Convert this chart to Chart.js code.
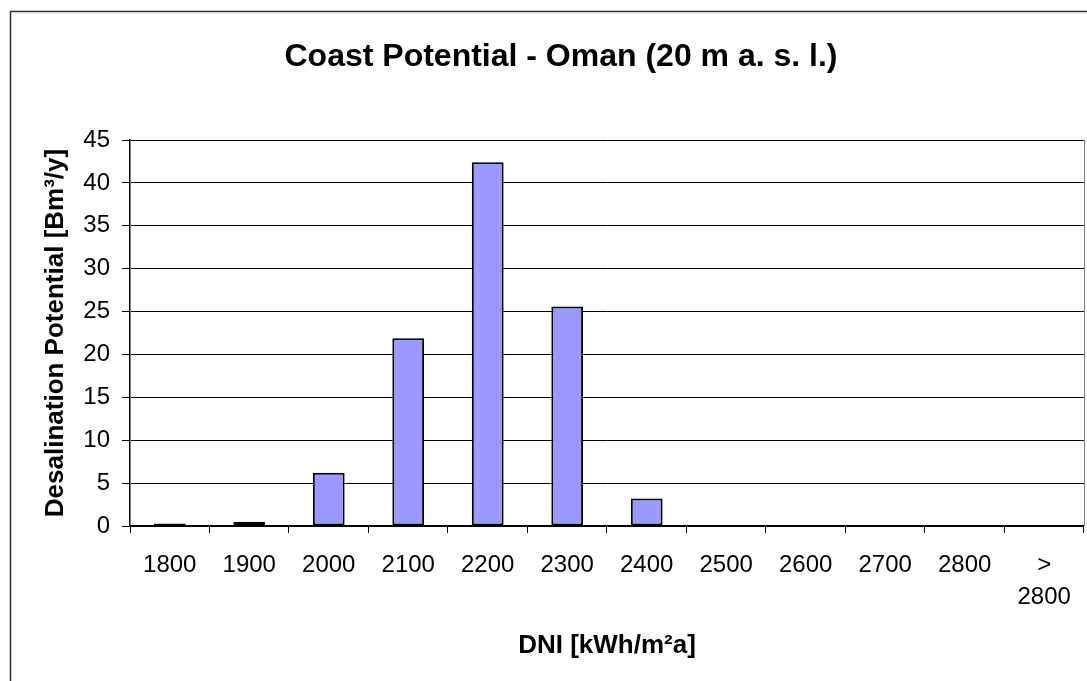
<!DOCTYPE html>
<html>
<head>
<meta charset="utf-8">
<title>Coast Potential - Oman</title>
<script src="https://cdn.jsdelivr.net/npm/chart.js@4/dist/chart.umd.min.js"></script>
<style>
  html, body { margin: 0; padding: 0; background: #ffffff; }
  #wrap { width: 1087px; height: 681px; }
</style>
</head>
<body>
<div id="wrap"><canvas id="chart" width="1087" height="681"></canvas></div>
<script>
// DNI classes (kWh/m²a) and desalination potential per class (Bm³/y)
const categories = ['1800', '1900', '2000', '2100', '2200', '2300', '2400', '2500', '2600', '2700', '2800', ['>', '2800']];
const potential = [0.3, 0.5, 6.2, 21.9, 42.4, 25.6, 3.2, 0, 0, 0, 0, 0];
const yTickValues = [0, 5, 10, 15, 20, 25, 30, 35, 40, 45];

const FONT = "'Liberation Sans', Arial, Helvetica, sans-serif";

// outer chart frame and right edge of the plot area
const framePlugin = {
  id: 'frame',
  beforeDraw(chart) {
    const ctx = chart.ctx;
    ctx.save();
    ctx.fillStyle = '#ffffff';
    ctx.fillRect(0, 0, chart.width, chart.height);
    ctx.strokeStyle = '#333333';
    ctx.lineWidth = 1.5;
    ctx.beginPath();
    ctx.moveTo(10.5, chart.height + 5);
    ctx.lineTo(10.5, 11.5);
    ctx.lineTo(chart.width + 5, 11.5);
    ctx.stroke();
    ctx.restore();
  },
  afterDraw(chart) {
    const a = chart.chartArea;
    const ctx = chart.ctx;
    ctx.save();
    ctx.strokeStyle = '#808080';
    ctx.lineWidth = 1;
    ctx.beginPath();
    ctx.moveTo(Math.round(a.right) + 0.5, a.top);
    ctx.lineTo(Math.round(a.right) + 0.5, a.bottom);
    ctx.stroke();
    ctx.restore();
  }
};

new Chart(document.getElementById('chart'), {
  type: 'bar',
  data: {
    labels: categories,
    datasets: [{
      data: potential,
      backgroundColor: '#9999FF',
      borderColor: '#000000',
      borderWidth: 2,
      borderSkipped: false,
      categoryPercentage: 1.0,
      barPercentage: 0.4
    }]
  },
  options: {
    responsive: false,
    animation: false,
    events: [],
    layout: { padding: { left: 38, right: 3, top: 11, bottom: 0 } },
    plugins: {
      legend: { display: false },
      tooltip: { enabled: false },
      title: {
        display: true,
        text: 'Coast Potential - Oman (20 m a. s. l.)',
        color: '#000000',
        font: { family: FONT, size: 32, weight: 'bold', lineHeight: 1.2 },
        padding: { top: 27, bottom: 63.6 }
      }
    },
    scales: {
      x: {
        grid: {
          offset: true,
          drawOnChartArea: false,
          drawTicks: true,
          tickLength: 7,
          color: '#000000',
          lineWidth: 1
        },
        border: { color: '#000000', width: 1.5 },
        ticks: {
          color: '#000000',
          font: { family: FONT, size: 24, lineHeight: 1.33 },
          padding: 16,
          maxRotation: 0,
          minRotation: 0,
          autoSkip: false
        },
        title: {
          display: true,
          text: 'DNI [kWh/m²a]',
          color: '#000000',
          font: { family: FONT, size: 26, weight: 'bold', lineHeight: 1.2 },
          padding: { top: 16, bottom: 20 }
        },
        afterFit(scale) { scale.height = 155; }
      },
      y: {
        min: 0,
        max: 45,
        afterBuildTicks(scale) {
          scale.ticks = yTickValues.map(v => ({ value: v }));
        },
        grid: {
          color: '#000000',
          lineWidth: 1,
          drawTicks: true,
          tickLength: 8
        },
        border: { color: '#000000', width: 1.5 },
        ticks: {
          color: '#000000',
          font: { family: FONT, size: 24 },
          padding: 12
        },
        title: {
          display: true,
          text: 'Desalination Potential [Bm³/y]',
          color: '#000000',
          font: { family: FONT, size: 26, weight: 'bold', lineHeight: 1.2 },
          padding: { top: 2, bottom: 0 }
        },
        afterFit(scale) { scale.width = 92; }
      }
    }
  },
  plugins: [framePlugin]
});
</script>
</body>
</html>
